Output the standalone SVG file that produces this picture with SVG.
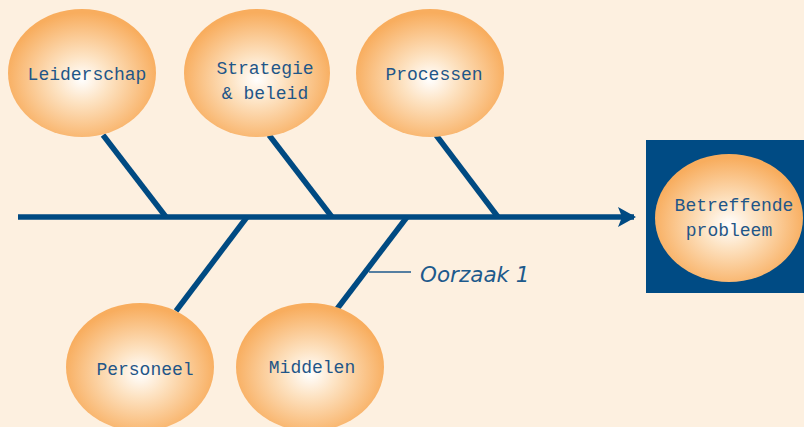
<svg xmlns="http://www.w3.org/2000/svg" width="804" height="427" viewBox="0 0 804 427">
  <defs>
    <radialGradient id="glow" cx="50%" cy="55%" r="52%">
      <stop offset="0" stop-color="#ffffff"/>
      <stop offset="0.35" stop-color="#fde3c3"/>
      <stop offset="1" stop-color="#f8ad5e"/>
    </radialGradient>
    <marker id="head" viewBox="0 0 18 20" refX="16" refY="10" markerWidth="18" markerHeight="20" markerUnits="userSpaceOnUse" orient="auto">
      <path d="M0,0 L18,10 L0,20 L4,10 Z" fill="#004a82"/>
    </marker>
    <style>
      .bubble { fill: url(#glow); }
      .bone { stroke: #004a82; stroke-width: 5.5; fill: none; }
      .label { font-family: "Liberation Mono", "Courier New", monospace; font-size: 18px; fill: #1f5688; text-anchor: middle; }
      .cause { font-family: "DejaVu Sans", Verdana, sans-serif; font-style: italic; font-size: 21.5px; fill: #1d5a8c; }
    </style>
  </defs>

  <rect width="804" height="427" fill="#fdf0e0"/>

  <!-- spine and bones -->
  <g id="connectors">
    <line class="bone" x1="18" y1="217" x2="634" y2="217" marker-end="url(#head)"/>
    <line class="bone" x1="103" y1="135" x2="166" y2="217"/>
    <line class="bone" x1="269" y1="135" x2="332" y2="217"/>
    <line class="bone" x1="436" y1="135" x2="498" y2="217"/>
    <line class="bone" x1="247" y1="217" x2="176" y2="311"/>
    <line class="bone" x1="407" y1="217" x2="337" y2="309"/>
    <line x1="369" y1="272" x2="411" y2="272" stroke="#1d5a8c" stroke-width="1.6"/>
  </g>

  <g id="leiderschap">
    <ellipse class="bubble" cx="82" cy="73" rx="74" ry="64"/>
    <text class="label" x="87" y="80">Leiderschap</text>
  </g>

  <g id="strategie">
    <ellipse class="bubble" cx="257" cy="73" rx="73" ry="64"/>
    <text class="label" x="265" y="74">Strategie</text>
    <text class="label" x="265" y="99">&amp; beleid</text>
  </g>

  <g id="processen">
    <ellipse class="bubble" cx="430" cy="73" rx="74" ry="64"/>
    <text class="label" x="434" y="80">Processen</text>
  </g>

  <g id="personeel">
    <ellipse class="bubble" cx="140" cy="367" rx="74" ry="64"/>
    <text class="label" x="145" y="375">Personeel</text>
  </g>

  <g id="middelen">
    <ellipse class="bubble" cx="310" cy="367" rx="74" ry="64"/>
    <text class="label" x="312" y="373">Middelen</text>
  </g>

  <g id="probleem">
    <rect x="646" y="140" width="158" height="153" fill="#004b84"/>
    <ellipse class="bubble" cx="729" cy="218" rx="74" ry="64"/>
    <text class="label" x="734" y="211">Betreffende</text>
    <text class="label" x="729" y="236">probleem</text>
  </g>

  <g id="oorzaak">
    <text class="cause" x="420" y="282">Oorzaak 1</text>
  </g>
</svg>
